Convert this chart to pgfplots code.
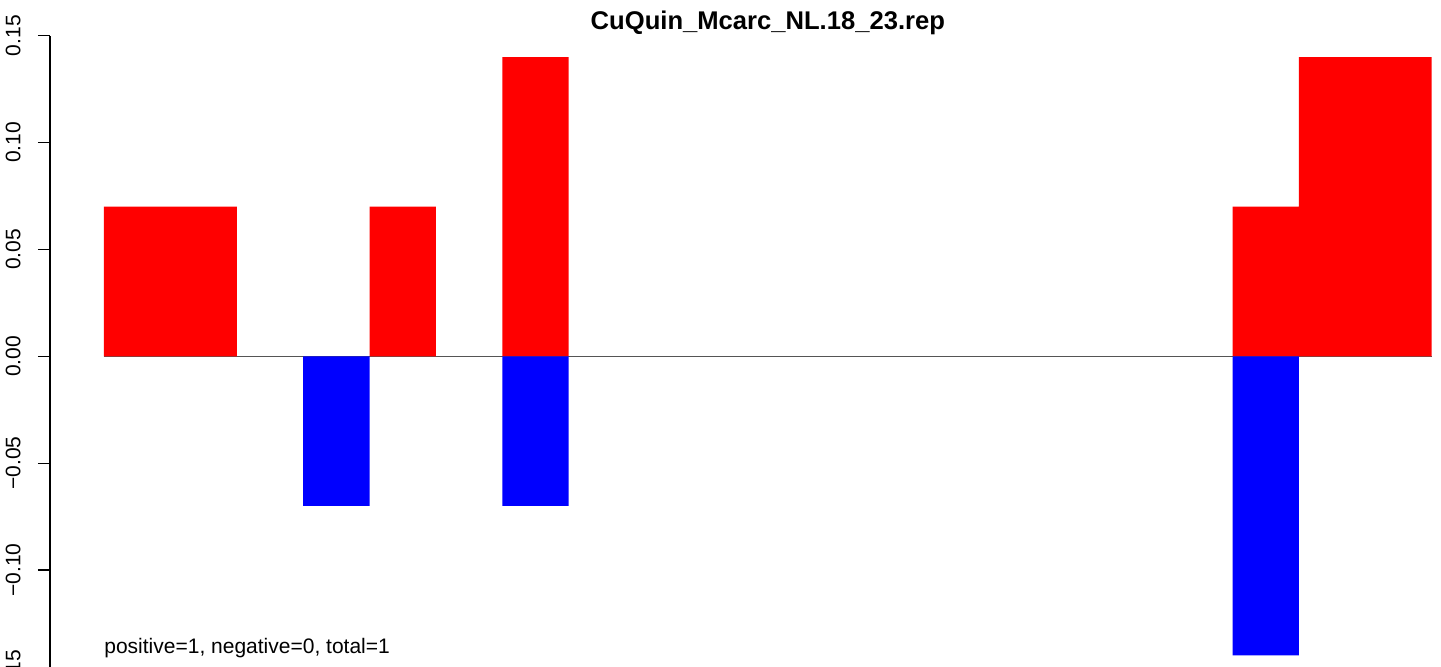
\documentclass[border=0pt]{standalone}
\usepackage{fontspec}
\setmainfont{Liberation Sans}
\usepackage{pgfplots}
\pgfplotsset{compat=1.18}
\definecolor{zeroline}{HTML}{555555}
\begin{document}
\begin{tikzpicture}
\begin{axis}[
  scale only axis,
  width=695.5pt, height=391.85pt,
  xmin=-0.8134, xmax=20.14,
  ymin=-0.2, ymax=0.1667,
  axis line style={draw=none},
  xtick=\empty,
  ytick={-0.15,-0.10,-0.05,0,0.05,0.10,0.15},
  yticklabels={−0.15,−0.10,−0.05,0.00,0.05,0.10,0.15},
  ytick pos=left,
  tick align=outside,
  major tick length=6pt,
  tick style={black, line width=0.6pt},
  yticklabel style={font=\fontsize{10.5pt}{12pt}\selectfont, xshift=-8.5pt, rotate=90, anchor=south, inner sep=0pt},
  clip=false,
]
\addplot[zeroline, line width=0.5pt, no marks] coordinates {(0,0) (20,0)};
\addplot[ybar, bar width=1, bar shift=0pt, fill={rgb,255:red,255;green,0;blue,0}, draw=none] coordinates {
 (0.5,0.07) (1.5,0.07) (4.5,0.07) (6.5,0.14) (17.5,0.07) (18.5,0.14) (19.5,0.14)};
\addplot[ybar, bar width=1, bar shift=0pt, fill={rgb,255:red,0;green,0;blue,255}, draw=none] coordinates {
 (3.5,-0.07) (6.5,-0.07) (17.5,-0.14)};
\draw[black, line width=0.6pt] (axis cs:-0.8134,-0.15) -- (axis cs:-0.8134,0.15);
\node[anchor=base, inner sep=0pt, font=\fontsize{12.8pt}{14pt}\selectfont\bfseries] at (axis cs:10,0.1527) {CuQuin\_Mcarc\_NL.18\_23.rep};
\node[anchor=base west, inner sep=0pt, font=\fontsize{10.5pt}{12pt}\selectfont] at (axis cs:0,-0.1393) {positive=1, negative=0, total=1};
\end{axis}
\pgfresetboundingbox
\path[use as bounding box] (current axis.north west) ++(-25pt,0) rectangle ++(720.5pt,-333pt);
\end{tikzpicture}
\end{document}
